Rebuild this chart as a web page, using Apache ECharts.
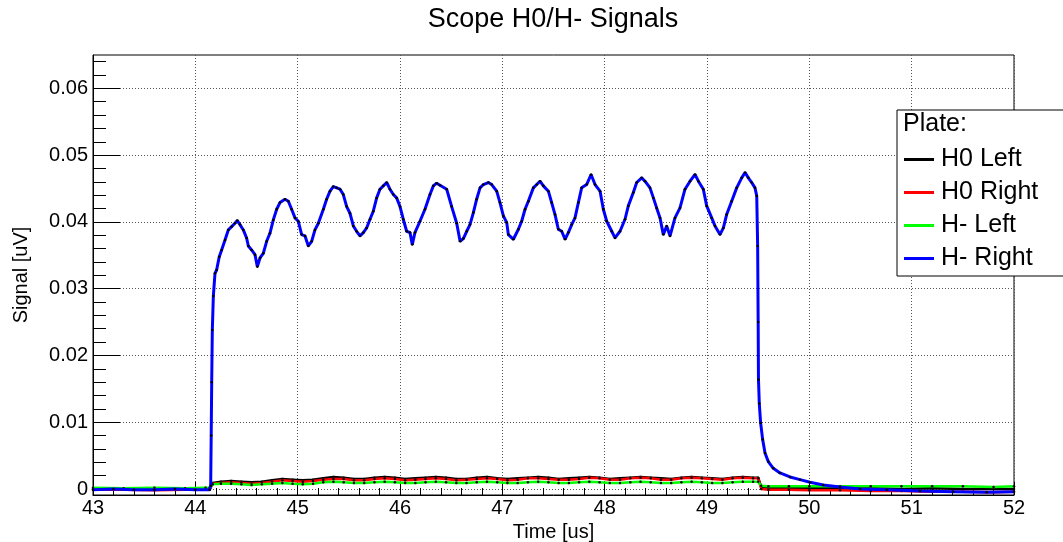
<!DOCTYPE html>
<html>
<head>
<meta charset="utf-8">
<title>Scope H0/H- Signals</title>
<script src="https://cdn.jsdelivr.net/npm/echarts@6/dist/echarts.min.js"></script>
<style>
  html, body { margin: 0; padding: 0; background: #fff; }
  #chart { width: 1063px; height: 542px; }
</style>
</head>
<body>
<div id="chart"></div>
<script>
// Scope traces: [time (us), signal (uV)]
const h0Left = [
  [43.0, 0.0000], [43.3, 0.0001], [43.6, 0.0000], [43.9, 0.0001], [44.1, 0.0000], [44.14, 0.0000],
  [44.17, 0.0009], [44.25, 0.0011], [44.35, 0.0012], [44.45, 0.0011], [44.55, 0.0010], [44.65, 0.0011],
  [44.75, 0.0013], [44.85, 0.0015], [44.95, 0.0014], [45.05, 0.0013], [45.15, 0.0014], [45.25, 0.0016],
  [45.35, 0.0018], [45.45, 0.0017], [45.55, 0.0015], [45.65, 0.0015], [45.75, 0.0017], [45.85, 0.0018],
  [45.95, 0.0017], [46.05, 0.0015], [46.15, 0.0016], [46.25, 0.0017], [46.35, 0.0018], [46.45, 0.0017],
  [46.55, 0.0015], [46.65, 0.0015], [46.75, 0.0017], [46.85, 0.0018], [46.95, 0.0016], [47.05, 0.0015],
  [47.15, 0.0016], [47.25, 0.0017], [47.35, 0.0018], [47.45, 0.0017], [47.55, 0.0015], [47.65, 0.0016],
  [47.75, 0.0017], [47.85, 0.0018], [47.95, 0.0017], [48.05, 0.0015], [48.15, 0.0016], [48.25, 0.0017],
  [48.35, 0.0018], [48.45, 0.0017], [48.55, 0.0016], [48.65, 0.0015], [48.75, 0.0017], [48.85, 0.0018],
  [48.95, 0.0017], [49.05, 0.0016], [49.15, 0.0015], [49.25, 0.0017], [49.35, 0.0018], [49.45, 0.0017],
  [49.50, 0.0017], [49.53, 0.0003], [49.6, 0.0002], [49.8, 0.0002], [50.0, 0.0001], [50.3, 0.0001],
  [50.6, 0.0001], [50.9, 0.0000], [51.2, 0.0001], [51.5, 0.0000], [51.8, 0.0000], [52.0, 0.0000]
];

const h0Right = [
  [43.0, -0.0001], [43.3, -0.0001], [43.6, -0.0002], [43.9, -0.0001], [44.1, -0.0001], [44.14, -0.0001],
  [44.17, 0.0008], [44.25, 0.0009], [44.35, 0.0010], [44.45, 0.0009], [44.55, 0.0008], [44.65, 0.0009],
  [44.75, 0.0011], [44.85, 0.0013], [44.95, 0.0012], [45.05, 0.0011], [45.15, 0.0012], [45.25, 0.0014],
  [45.35, 0.0015], [45.45, 0.0015], [45.55, 0.0013], [45.65, 0.0013], [45.75, 0.0015], [45.85, 0.0016],
  [45.95, 0.0015], [46.05, 0.0013], [46.15, 0.0014], [46.25, 0.0015], [46.35, 0.0016], [46.45, 0.0015],
  [46.55, 0.0013], [46.65, 0.0014], [46.75, 0.0015], [46.85, 0.0016], [46.95, 0.0015], [47.05, 0.0013],
  [47.15, 0.0014], [47.25, 0.0016], [47.35, 0.0016], [47.45, 0.0015], [47.55, 0.0014], [47.65, 0.0014],
  [47.75, 0.0015], [47.85, 0.0017], [47.95, 0.0016], [48.05, 0.0014], [48.15, 0.0014], [48.25, 0.0016],
  [48.35, 0.0017], [48.45, 0.0016], [48.55, 0.0014], [48.65, 0.0014], [48.75, 0.0016], [48.85, 0.0017],
  [48.95, 0.0016], [49.05, 0.0015], [49.15, 0.0014], [49.25, 0.0016], [49.35, 0.0017], [49.45, 0.0016],
  [49.50, 0.0016], [49.53, 0.0000], [49.6, -0.0001], [49.8, -0.0001], [50.0, -0.0002], [50.3, -0.0002],
  [50.6, -0.0003], [50.9, -0.0003], [51.2, -0.0004], [51.5, -0.0004], [51.8, -0.0005], [52.0, -0.0004]
];

const hmLeft = [
  [43.0, 0.0002], [43.3, 0.0001], [43.6, 0.0002], [43.9, 0.0001], [44.1, 0.0002], [44.14, 0.0002],
  [44.17, 0.0007], [44.25, 0.0008], [44.35, 0.0008], [44.45, 0.0007], [44.55, 0.0006], [44.65, 0.0007],
  [44.75, 0.0008], [44.85, 0.0009], [44.95, 0.0008], [45.05, 0.0007], [45.15, 0.0008], [45.25, 0.0010],
  [45.35, 0.0011], [45.45, 0.0010], [45.55, 0.0009], [45.65, 0.0009], [45.75, 0.0010], [45.85, 0.0011],
  [45.95, 0.0010], [46.05, 0.0009], [46.15, 0.0009], [46.25, 0.0010], [46.35, 0.0011], [46.45, 0.0010],
  [46.55, 0.0009], [46.65, 0.0009], [46.75, 0.0010], [46.85, 0.0011], [46.95, 0.0010], [47.05, 0.0009],
  [47.15, 0.0009], [47.25, 0.0010], [47.35, 0.0011], [47.45, 0.0010], [47.55, 0.0009], [47.65, 0.0009],
  [47.75, 0.0010], [47.85, 0.0011], [47.95, 0.0010], [48.05, 0.0009], [48.15, 0.0009], [48.25, 0.0010],
  [48.35, 0.0011], [48.45, 0.0010], [48.55, 0.0009], [48.65, 0.0009], [48.75, 0.0010], [48.85, 0.0011],
  [48.95, 0.0010], [49.05, 0.0009], [49.15, 0.0009], [49.25, 0.0010], [49.35, 0.0011], [49.45, 0.0011],
  [49.50, 0.0011], [49.53, 0.0005], [49.6, 0.0004], [49.8, 0.0004], [50.0, 0.0004], [50.3, 0.0004],
  [50.6, 0.0004], [50.9, 0.0004], [51.2, 0.0004], [51.5, 0.0004], [51.8, 0.0003], [52.0, 0.0004]
];

const hmRight = [
  [43.0, -0.0001], [43.2, 0.0000], [43.4, -0.0001], [43.6, -0.0001], [43.8, 0.0000], [44.0, -0.0001],
  [44.14, -0.0001], [44.15, 0.0005], [44.155, 0.0080], [44.16, 0.0160], [44.166, 0.0238], [44.176, 0.0289],
  [44.192, 0.0323], [44.208, 0.0328], [44.234, 0.0348], [44.257, 0.0358], [44.290, 0.0373], [44.322, 0.0388],
  [44.355, 0.0393], [44.387, 0.0398], [44.410, 0.0402], [44.436, 0.0396], [44.469, 0.0388], [44.501, 0.0376],
  [44.518, 0.0364], [44.550, 0.0358], [44.583, 0.0351], [44.606, 0.0333], [44.632, 0.0346], [44.664, 0.0353],
  [44.697, 0.0371], [44.729, 0.0383], [44.762, 0.0403], [44.795, 0.0419], [44.827, 0.0429], [44.876, 0.0434],
  [44.909, 0.0431], [44.941, 0.0419], [44.974, 0.0406], [45.006, 0.0401], [45.039, 0.0381], [45.072, 0.0379],
  [45.104, 0.0364], [45.137, 0.0371], [45.169, 0.0388], [45.202, 0.0398], [45.251, 0.0419], [45.283, 0.0434],
  [45.316, 0.0446], [45.348, 0.0453], [45.381, 0.0451], [45.414, 0.0449], [45.446, 0.0441], [45.479, 0.0423],
  [45.511, 0.0413], [45.544, 0.0394], [45.576, 0.0386], [45.609, 0.0379], [45.642, 0.0384], [45.674, 0.0391],
  [45.707, 0.0404], [45.739, 0.0416], [45.772, 0.0436], [45.804, 0.0449], [45.837, 0.0454], [45.870, 0.0459],
  [45.902, 0.0449], [45.935, 0.0441], [45.967, 0.0436], [46.000, 0.0423], [46.032, 0.0404], [46.065, 0.0386],
  [46.098, 0.0384], [46.120, 0.0366], [46.146, 0.0384], [46.195, 0.0401], [46.244, 0.0419], [46.293, 0.0441],
  [46.326, 0.0454], [46.358, 0.0458], [46.391, 0.0455], [46.456, 0.0449], [46.505, 0.0423], [46.554, 0.0398],
  [46.587, 0.0371], [46.619, 0.0375], [46.652, 0.0386], [46.684, 0.0396], [46.717, 0.0414], [46.749, 0.0434],
  [46.782, 0.0451], [46.815, 0.0456], [46.863, 0.0459], [46.896, 0.0456], [46.945, 0.0446], [46.977, 0.0429],
  [47.010, 0.0409], [47.043, 0.0399], [47.059, 0.0381], [47.108, 0.0374], [47.157, 0.0389], [47.189, 0.0401],
  [47.222, 0.0419], [47.254, 0.0431], [47.303, 0.0451], [47.336, 0.0456], [47.368, 0.0461], [47.401, 0.0454],
  [47.450, 0.0446], [47.482, 0.0429], [47.515, 0.0411], [47.547, 0.0389], [47.580, 0.0386], [47.613, 0.0374],
  [47.645, 0.0384], [47.678, 0.0396], [47.710, 0.0406], [47.743, 0.0429], [47.775, 0.0451], [47.824, 0.0456],
  [47.867, 0.0471], [47.906, 0.0456], [47.955, 0.0446], [47.987, 0.0419], [48.020, 0.0401], [48.069, 0.0386],
  [48.101, 0.0376], [48.150, 0.0386], [48.199, 0.0404], [48.231, 0.0424], [48.280, 0.0444], [48.313, 0.0459],
  [48.362, 0.0466], [48.394, 0.0461], [48.443, 0.0451], [48.476, 0.0436], [48.508, 0.0421], [48.541, 0.0406],
  [48.573, 0.0381], [48.606, 0.0394], [48.639, 0.0379], [48.687, 0.0406], [48.736, 0.0421], [48.785, 0.0449],
  [48.834, 0.0461], [48.883, 0.0471], [48.916, 0.0461], [48.964, 0.0449], [48.997, 0.0424], [49.046, 0.0406],
  [49.078, 0.0394], [49.127, 0.0381], [49.160, 0.0391], [49.192, 0.0411], [49.241, 0.0431], [49.290, 0.0451],
  [49.339, 0.0466], [49.372, 0.0474], [49.404, 0.0466], [49.437, 0.0459], [49.469, 0.0451], [49.486, 0.0439],
  [49.495, 0.0364], [49.500, 0.0250], [49.503, 0.0164], [49.511, 0.0128], [49.524, 0.0099], [49.544, 0.0074],
  [49.567, 0.0054], [49.599, 0.0041], [49.648, 0.0031], [49.713, 0.0024], [49.811, 0.0018], [49.909, 0.0014],
  [50.006, 0.0010], [50.137, 0.0006], [50.300, 0.0003], [50.495, 0.0000], [50.756, -0.0001], [51.081, -0.0003],
  [51.407, -0.0004], [51.733, -0.0005], [52.000, -0.0004]
];

// Axis ranges and tick values
const timeRange = [43, 52];
const signalRange = [-0.0009, 0.065];
const signalMajorTicks = [0, 0.01, 0.02, 0.03, 0.04, 0.05, 0.06];
const signalMinorTicks = [];
for (let i = 0; i <= 32; i++) signalMinorTicks.push(Number((i * 0.002).toFixed(3)));

const seriesNames = ['H0 Left', 'H0 Right', 'H- Left', 'H- Right'];
const seriesColors = ['#000000', '#ff0000', '#00ff00', '#0000ff'];
const seriesData = [h0Left, h0Right, hmLeft, hmRight];

const FONT = '"Liberation Sans", Arial, Helvetica, sans-serif';

const chart = echarts.init(document.getElementById('chart'), null, { renderer: 'canvas' });

const option = {
  backgroundColor: '#ffffff',
  animation: false,
  title: {
    text: 'Scope H0/H- Signals',
    left: 548,
    textAlign: 'center',
    top: 1,
    textStyle: { fontFamily: FONT, fontSize: 27, fontWeight: 'normal', color: '#000' }
  },
  grid: {
    left: 93, right: 49, top: 55, bottom: 47,
    outerBoundsMode: 'none',
    containLabel: false,
    show: true, borderColor: '#000', borderWidth: 1, backgroundColor: 'transparent'
  },
  legend: {
    orient: 'vertical',
    left: 897,
    top: 110,
    padding: [37, 60, 5, 7],
    itemGap: 8,
    itemWidth: 30,
    itemHeight: 3,
    icon: 'rect',
    selectedMode: false,
    borderColor: '#000',
    borderWidth: 1,
    backgroundColor: '#fff',
    textStyle: { fontFamily: FONT, fontSize: 25, color: '#000', padding: [0, 0, 0, 2] },
    data: seriesNames.map((n, i) => ({ name: n, itemStyle: { color: seriesColors[i] } }))
  },
  graphic: [{
    type: 'text',
    left: 903,
    top: 112,
    z: 100,
    style: { text: 'Plate:', fontFamily: FONT, fontSize: 25, fill: '#000' }
  }],
  xAxis: {
    type: 'value',
    min: timeRange[0],
    max: timeRange[1],
    interval: 1,
    name: 'Time [us]',
    nameLocation: 'middle',
    nameGap: 24,
    nameTextStyle: { fontFamily: FONT, fontSize: 20, color: '#000' },
    axisLine: { show: true, onZero: false, lineStyle: { color: '#000', width: 1 } },
    axisTick: { show: true, inside: true, length: 13, lineStyle: { color: '#000' } },
    minorTick: { show: true, splitNumber: 5, length: 7, lineStyle: { color: '#000' } },
    axisLabel: { fontFamily: FONT, fontSize: 20, color: '#000', margin: 3 },
    splitLine: { show: true, lineStyle: { color: '#555', width: 1, type: [1, 2] } }
  },
  yAxis: [{
    type: 'value',
    min: signalRange[0],
    max: signalRange[1],
    position: 'left',
    name: 'Signal [uV]',
    nameLocation: 'middle',
    nameGap: 62,
    nameRotate: 90,
    nameTextStyle: { fontFamily: FONT, fontSize: 20, color: '#000' },
    axisLine: { show: true, onZero: false, lineStyle: { color: '#000', width: 1 } },
    axisTick: { show: true, inside: true, length: 27, customValues: signalMajorTicks, lineStyle: { color: '#000' } },
    axisLabel: { fontFamily: FONT, fontSize: 20, color: '#000', margin: 5, customValues: signalMajorTicks },
    splitLine: { show: true, lineStyle: { color: '#555', width: 1, type: [1, 2] } }
  }, {
    type: 'value',
    min: signalRange[0],
    max: signalRange[1],
    position: 'left',
    axisLine: { show: false },
    axisTick: { show: true, inside: true, length: 13, customValues: signalMinorTicks, lineStyle: { color: '#000' } },
    axisLabel: { show: false },
    splitLine: { show: false }
  }],
  series: seriesNames.map((name, i) => ({
    name: name,
    type: 'line',
    yAxisIndex: 0,
    data: seriesData[i],
    showSymbol: true,
    showAllSymbol: true,
    symbol: 'circle',
    symbolSize: 2.5,
    itemStyle: { color: '#000', borderWidth: 0 },
    lineStyle: { color: seriesColors[i], width: i === 3 ? 3 : 2.5 },
    emphasis: { disabled: true },
    z: 2 + i
  }))
};

chart.setOption(option);
</script>
</body>
</html>
